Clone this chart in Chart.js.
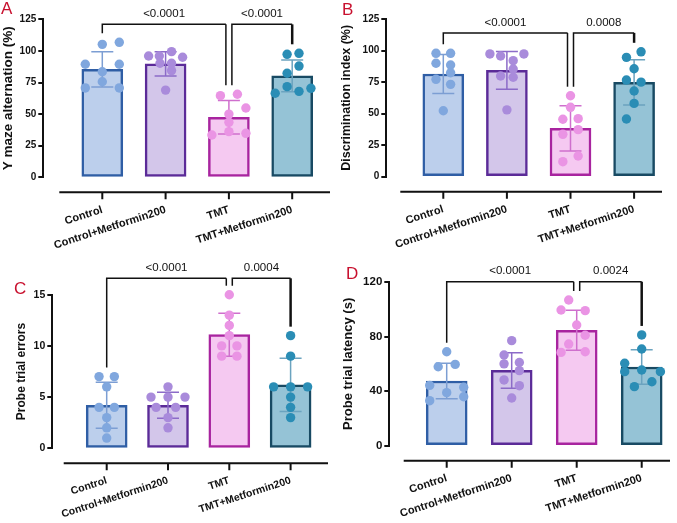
<!DOCTYPE html>
<html>
<head>
<meta charset="utf-8">
<title>TMT / Metformin behaviour</title>
<script src="https://cdn.jsdelivr.net/npm/chart.js"></script>
<style>
    body {
        margin: 0;
        background: #fff;
        font-family: "Liberation Sans", Arial, sans-serif;
    }
    #fig {
        position: relative;
        width: 677px;
        height: 523px;
    }
    #fig canvas {
        position: absolute;
    }
    .letter {
        position: absolute;
        color: #c8102e;
        font-size: 17px;
        line-height: 1;
    }
</style>
</head>
<body>
<div id="fig">
    <canvas id="chartA" width="337" height="260" style="left:0;top:0"></canvas>
    <canvas id="chartB" width="340" height="260" style="left:337px;top:0"></canvas>
    <canvas id="chartC" width="337" height="263" style="left:0;top:260px"></canvas>
    <canvas id="chartD" width="340" height="263" style="left:337px;top:260px"></canvas>
    <div class="letter" style="left:1px;top:0">A</div>
    <div class="letter" style="left:342px;top:1px">B</div>
    <div class="letter" style="left:14px;top:280px">C</div>
    <div class="letter" style="left:346px;top:265px">D</div>
</div>

<script>
    const groups = ['Control', 'Control+Metformin200', 'TMT', 'TMT+Metformin200'];

    // A - Y maze
    const yMazeMean = [85.4, 89.7, 47.5, 80.2];
    const yMazeSD = [14, 9.6, 13.2, 12.6];
    const yMazeDots = [
        [105.2, 106.8, 89.4, 89.4, 83.5, 75.6, 70.7, 70.7],
        [96, 96, 99.4, 95, 90.2, 90.2, 84.4, 69],
        [64.6, 65.7, 54.8, 50, 43.5, 33.5, 36.1, 34.8],
        [97.3, 98.1, 88, 82.3, 71.7, 68, 66.5, 70.4]
    ];
    const yMazeJitter = [
        [0, 1, -1, 1, 0, 0, -1, 1],
        [-1, -0.37, 0.35, 1, -0.33, 0.35, 0.35, 0],
        [-0.5, 0.5, 1, 0, 0, -1, 0, 1],
        [-0.3, 0.4, 0.4, -0.3, -0.3, 0.4, -1, 1.1]
    ];
    const yMazeP = ['<0.0001', '<0.0001'];

    // B - discrimination index
    const discMean = [81.4, 84.3, 38.3, 74.8];
    const discSD = [15.4, 15, 18, 17.9];
    const discDots = [
        [97.8, 97.8, 89.9, 88.5, 82.4, 77.2, 73.2, 52.3],
        [97.3, 95.7, 97.3, 92, 85.4, 79.8, 78.8, 53],
        [64.2, 55, 45.5, 46, 37.3, 33.6, 16.4, 11.9],
        [99, 94.6, 85.6, 76.6, 75, 67.9, 58.1, 45.7]
    ];
    const discJitter = [
        [-0.43, 0.43, -0.43, 0.43, 0.43, -0.43, 0.43, 0],
        [-1, -0.37, 1, 0.37, 0.37, -0.37, 0.37, 0],
        [0, 0, -0.45, 0.45, 0.45, -0.45, 0.45, -0.45],
        [0.41, -0.45, 0, -0.45, 0.41, 0, 0, -0.45]
    ];
    const discP = ['<0.0001', '0.0008'];

    // C - probe trial errors
    const errMean = [4.2, 4.2, 11.1, 6.2];
    const errSD = [2.25, 1.27, 2.1, 2.6];
    const errDots = [
        [7, 7, 6, 4, 4, 3, 2, 1],
        [6, 5, 5, 5, 4, 4, 3, 2],
        [15, 13, 12, 11, 10, 10, 9, 9],
        [11, 9, 6, 6, 6, 5, 4, 3]
    ];
    const errJitter = [
        [-0.45, 0.45, 0, -0.45, 0.45, 0, 0, 0],
        [0, -1, 0, 1, -0.7, 0.45, 0, 0],
        [0, 0, 0, 0, -0.45, 0.45, -0.45, 0.45],
        [0, 0, -1, 0, 1, 0, 0, 0]
    ];
    const errP = ['<0.0001', '0.0004'];

    // D - probe trial latency
    const latMean = [47.4, 55.2, 84.6, 57.7];
    const latSD = [13, 13, 14.6, 12.6];
    const latDots = [
        [68.9, 57.9, 59.6, 44.2, 42.8, 38.9, 33, 35.9],
        [77, 66.5, 60, 61, 55, 48.2, 44, 35],
        [106.8, 99.5, 99, 88.5, 81, 74.5, 68.4, 68.9],
        [81.2, 70.9, 60.4, 54.3, 55.5, 54.3, 46.9, 43.3]
    ];
    const latJitter = [
        [0, -0.5, 0.5, -1, 1, 0, -1, 1],
        [0, -0.45, -0.45, 0.45, 0.45, -0.45, 0.45, 0],
        [-0.47, -0.92, 0.5, 0, 0.5, -0.47, -0.92, 0.5],
        [0, 0, -1, -1, 0, 1.1, 0.6, -0.43]
    ];
    const latP = ['<0.0001', '0.0024'];

    const fillColors = ['#bccfec', '#d3c6ea', '#f5c9f1', '#95c3d6'];
    const borderColors = ['#2f5ea5', '#5b2b98', '#a8249f', '#184a63'];
    const dotColors = ['#80a7de', '#a98bdb', '#ea94e4', '#2a8db5'];
    const errColors = ['#7c9ed3', '#8c6bc8', '#cf6fcd', '#6ba3bf'];

    Chart.defaults.font.family = '"Liberation Sans", Arial, sans-serif';
    Chart.defaults.color = '#111';

    function buildPanel(id, cfg) {
        const canvas = document.getElementById(id);
        const W = canvas.width, H = canvas.height;
        const xMin = (cfg.axisX - cfg.c0) / cfg.step;
        const xMax = (cfg.right - cfg.c0) / cfg.step;
        const slot = 17 / cfg.step;

        const datasets = [{
            type: 'bar',
            data: cfg.mean.map((v, i) => ({x: i, y: v})),
            backgroundColor: fillColors,
            borderColor: borderColors,
            borderWidth: 2.5,
            borderSkipped: false,
            barThickness: 41,
            order: 10
        }];
        cfg.dots.forEach((vals, g) => {
            datasets.push({
                type: 'scatter',
                data: vals.map((v, k) => ({x: g + cfg.jitter[g][k] * slot, y: v})),
                backgroundColor: dotColors[g],
                pointRadius: 4.7,
                pointBorderWidth: 0,
                clip: false,
                order: 1
            });
        });

        const groupTop = i => Math.max(Math.max(...cfg.dots[i]), cfg.mean[i] + cfg.sd[i]);

        const prism = {
            id: 'prism',
            afterDatasetDraw(chart, args) {
                if (args.meta.type !== 'bar') return;
                const ctx = chart.ctx, x = chart.scales.x, y = chart.scales.y;
                ctx.save();
                ctx.lineWidth = 1.5;
                cfg.mean.forEach((m, i) => {
                    const cx = x.getPixelForValue(i);
                    const t = y.getPixelForValue(m + cfg.sd[i]);
                    const b = y.getPixelForValue(m - cfg.sd[i]);
                    ctx.strokeStyle = errColors[i];
                    ctx.beginPath();
                    ctx.moveTo(cx, t); ctx.lineTo(cx, b);
                    ctx.moveTo(cx - 11, t); ctx.lineTo(cx + 11, t);
                    ctx.moveTo(cx - 11, b); ctx.lineTo(cx + 11, b);
                    ctx.stroke();
                });
                ctx.restore();
            },
            afterDraw(chart) {
                const ctx = chart.ctx, area = chart.chartArea;
                const x = chart.scales.x, y = chart.scales.y;
                ctx.save();
                ctx.strokeStyle = '#111';
                // detached x axis
                const ly = area.bottom + 15;
                ctx.lineWidth = 2;
                ctx.beginPath();
                ctx.moveTo(x.getPixelForValue(0) - 43, ly);
                ctx.lineTo(area.right, ly);
                groups.forEach((g, i) => {
                    const px = x.getPixelForValue(i);
                    ctx.moveTo(px, ly);
                    ctx.lineTo(px, ly + 7);
                });
                ctx.stroke();

                // significance brackets
                const by = y.getPixelForValue(cfg.bracketLevel);
                const pairs = [[0, 2], [2, 3]];
                ctx.font = '11.5px "Liberation Sans", Arial, sans-serif';
                ctx.fillStyle = '#111';
                ctx.textAlign = 'center';
                ctx.textBaseline = 'middle';
                pairs.forEach(([a, b], k) => {
                    const xa = x.getPixelForValue(a) + (a === 2 ? 3 : 0);
                    const xb = x.getPixelForValue(b) - (b === 2 ? 3 : 0);
                    ctx.lineWidth = 1.5;
                    ctx.beginPath();
                    ctx.moveTo(xa, y.getPixelForValue(groupTop(a)) - 9);
                    ctx.lineTo(xa, by);
                    ctx.lineTo(xb, by);
                    ctx.stroke();
                    ctx.lineWidth = b === 3 ? 2.5 : 1.5;
                    ctx.beginPath();
                    ctx.moveTo(xb, by);
                    ctx.lineTo(xb, y.getPixelForValue(groupTop(b)) - 9);
                    ctx.stroke();
                    ctx.fillText(cfg.pValues[k], (xa + xb) / 2, by - 10.5);
                });
                ctx.restore();
            }
        };

        return new Chart(canvas, {
            type: 'bar',
            data: {datasets: datasets},
            plugins: [prism],
            options: {
                responsive: false,
                animation: false,
                layout: {
                    autoPadding: false,
                    padding: {left: 0, top: cfg.top, right: W - cfg.right, bottom: 0}
                },
                plugins: {legend: {display: false}, tooltip: {enabled: false}},
                scales: {
                    x: {
                        type: 'linear',
                        offset: false,
                        min: xMin,
                        max: xMax,
                        grid: {display: false},
                        border: {display: false},
                        afterBuildTicks: s => { s.ticks = groups.map((g, i) => ({value: i})); },
                        afterFit: s => { s.height = H - cfg.bottom; },
                        ticks: {
                            autoSkip: false,
                            minRotation: 18,
                            maxRotation: 18,
                            padding: cfg.labelPad,
                            color: '#111',
                            font: {size: cfg.labelSize, weight: 'bold'},
                            callback: v => groups[v]
                        }
                    },
                    y: {
                        min: 0,
                        max: cfg.yMax,
                        afterFit: s => { s.width = cfg.axisX; },
                        ticks: {
                            stepSize: cfg.yStep,
                            padding: 2,
                            color: '#111',
                            font: {size: cfg.tickSize, weight: 'bold'}
                        },
                        grid: {display: true, drawOnChartArea: false, drawTicks: true, tickLength: 5, color: '#111', lineWidth: 2},
                        border: {display: true, color: '#111', width: 2},
                        title: {
                            display: true,
                            text: cfg.yTitle,
                            color: '#111',
                            padding: {top: cfg.titlePad, bottom: 0},
                            font: {size: cfg.titleSize, weight: 'bold'}
                        }
                    }
                }
            }
        });
    }

    buildPanel('chartA', {
        mean: yMazeMean, sd: yMazeSD, dots: yMazeDots, jitter: yMazeJitter, pValues: yMazeP,
        yTitle: 'Y maze alternation (%)', yMax: 125, yStep: 25, bracketLevel: 121,
        axisX: 43.3, top: 19.3, bottom: 177.3, c0: 102.3, step: 63.3, right: 330,
        titlePad: 0, titleSize: 13.5, tickSize: 10, labelSize: 11, labelPad: 18
    });
    buildPanel('chartB', {
        mean: discMean, sd: discSD, dots: discDots, jitter: discJitter, pValues: discP,
        yTitle: 'Discrimination index (%)', yMax: 125, yStep: 25, bracketLevel: 114,
        axisX: 49.3, top: 19, bottom: 176.7, c0: 106.3, step: 63.6, right: 325,
        titlePad: 2, titleSize: 12.5, tickSize: 10, labelSize: 11, labelPad: 18
    });
    buildPanel('chartC', {
        mean: errMean, sd: errSD, dots: errDots, jitter: errJitter, pValues: errP,
        yTitle: 'Probe trial errors', yMax: 15, yStep: 5, bracketLevel: 16.6,
        axisX: 52.3, top: 34.7, bottom: 188.3, c0: 106.7, step: 61.3, right: 328,
        titlePad: 14, titleSize: 12, tickSize: 10.5, labelSize: 10.5, labelPad: 18
    });
    buildPanel('chartD', {
        mean: latMean, sd: latSD, dots: latDots, jitter: latJitter, pValues: latP,
        yTitle: 'Probe trial latency (s)', yMax: 120, yStep: 40, bracketLevel: 120.2,
        axisX: 52.3, top: 22, bottom: 185.7, c0: 109.7, step: 65, right: 333,
        titlePad: 4, titleSize: 13, tickSize: 11.5, labelSize: 11, labelPad: 18
    });
</script>
</body>
</html>
